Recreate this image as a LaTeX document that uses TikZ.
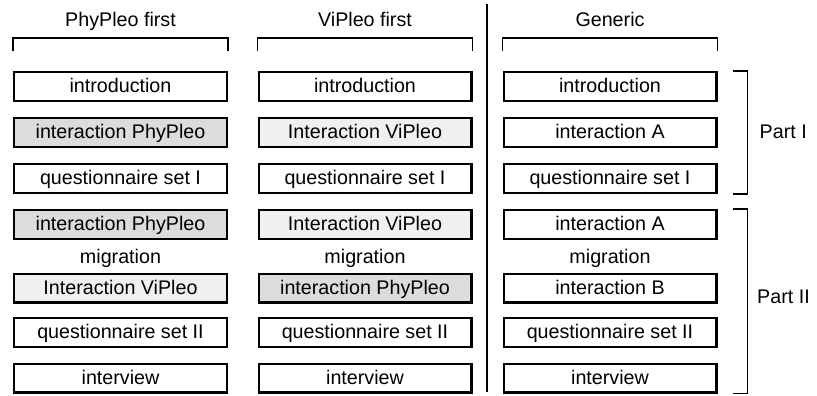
\documentclass[tikz,border=0pt]{standalone}
\usepackage{fontspec}
\setmainfont{Liberation Sans}
\usetikzlibrary{positioning}
\definecolor{phygray}{HTML}{DCDCDC}
\definecolor{vigray}{HTML}{F0F0F0}

\begin{document}
\begin{tikzpicture}[x=1pt,y=-1pt,
	every node/.style={font=\fontsize{19.7}{23}\selectfont,text height=15pt,text depth=2.6pt},
	stage/.style={draw,line width=2.4pt,minimum width=212.6pt,minimum height=28.6pt,inner sep=0pt},
	phy/.style={stage,fill=phygray},
	vi/.style={stage,fill=vigray},
	brk/.style={line width=1.3pt}]
	\useasboundingbox (0,0) rectangle (817,396);
	% column titles
	\node (tp) at (120.5,20) {PhyPleo first};
	\node (tv) at (365,20) {ViPleo first};
	\node (tg) at (610,20) {Generic};
	% PhyPleo first
	\node[stage] (p1) at (120.5,86.5) {introduction};
	\node[phy] (p2) at (120.5,132.5) {interaction PhyPleo};
	\node[stage] (p3) at (120.5,178.5) {questionnaire set I};
	\node[phy] (p4) at (120.5,224.5) {interaction PhyPleo};
	\node (pm) at (120.5,257) {migration};
	\node[vi] (p5) at (120.5,288) {Interaction ViPleo};
	\node[stage] (p6) at (120.5,332.5) {questionnaire set II};
	\node[stage] (p7) at (120.5,378) {interview};
	% ViPleo first
	\node[stage] (v1) at (365,86.5) {introduction};
	\node[vi] (v2) at (365,132.5) {Interaction ViPleo};
	\node[stage] (v3) at (365,178.5) {questionnaire set I};
	\node[vi] (v4) at (365,224.5) {Interaction ViPleo};
	\node (vm) at (365,257) {migration};
	\node[phy] (v5) at (365,288) {interaction PhyPleo};
	\node[stage] (v6) at (365,332.5) {questionnaire set II};
	\node[stage] (v7) at (365,378) {interview};
	% Generic
	\node[stage] (g1) at (610,86.5) {introduction};
	\node[stage] (g2) at (610,132.5) {interaction A};
	\node[stage] (g3) at (610,178.5) {questionnaire set I};
	\node[stage] (g4) at (610,224.5) {interaction A};
	\node (gm) at (610,257) {migration};
	\node[stage] (g5) at (610,288) {interaction B};
	\node[stage] (g6) at (610,332.5) {questionnaire set II};
	\node[stage] (g7) at (610,378) {interview};
	% brackets over the columns
	\draw[brk] ([yshift=20pt]p1.north west) -- ([yshift=33pt]p1.north west) -| ([yshift=20pt]p1.north east);
	\draw[brk] ([yshift=20pt]v1.north west) -- ([yshift=33pt]v1.north west) -| ([yshift=20pt]v1.north east);
	\draw[brk] ([yshift=20pt]g1.north west) -- ([yshift=33pt]g1.north west) -| ([yshift=20pt]g1.north east);
	% separator
	\draw[line width=2pt] (487,4) -- (487,392);
	% parts
	\draw[brk] ([xshift=15pt]g1.north east) -- ([xshift=30pt]g1.north east) |- ([xshift=15pt]g3.south east);
	\draw[brk] ([xshift=15pt]g4.north east) -- ([xshift=30pt]g4.north east) |- ([xshift=15pt]g7.south east);
	\coordinate (c1) at ([xshift=30pt]g2.east);
	\coordinate (c2) at (747,297);
	\node[right=12pt of c1,inner sep=0pt] (part1) {Part I};
	\node[right=10pt of c2,inner sep=0pt] (part2) {Part II};
\end{tikzpicture}
\end{document}
